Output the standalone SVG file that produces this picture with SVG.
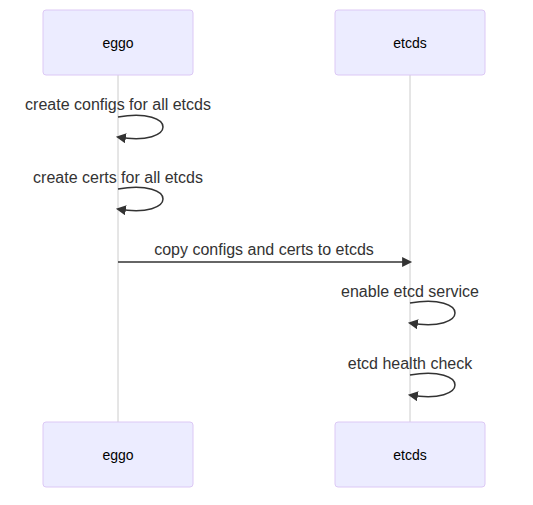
<svg xmlns="http://www.w3.org/2000/svg" width="533" height="505" viewBox="0 0 533 505">
<defs>
<style>
.actor{fill:#ECECFF;stroke:#DCC8F5;stroke-width:1}
.atext{font-family:"Liberation Sans",Arial,sans-serif;font-size:14px;fill:#000;text-anchor:middle;dominant-baseline:central}
.mtext{font-family:"Liberation Sans",Arial,sans-serif;font-size:16px;fill:#333;text-anchor:middle}
.life{stroke:#ccc;stroke-width:1}
.msg{stroke:#333;stroke-width:1.5;fill:none;marker-end:url(#arrowhead)}
</style>
<marker id="arrowhead" refX="7.9" refY="5" markerUnits="userSpaceOnUse" markerWidth="12" markerHeight="12" orient="auto">
<path d="M 0 0 L 10 5 L 0 10 z" fill="#333"/>
</marker>
</defs>
<rect width="533" height="505" fill="#fff"/>
<g id="lifelines">
<line class="life" x1="118" y1="75" x2="118" y2="422"/>
<line class="life" x1="410" y1="75" x2="410" y2="422"/>
</g>
<g id="eggo-top"><rect class="actor" x="43" y="10" width="150" height="65" rx="3"/><text class="atext" x="118" y="43">eggo</text></g>
<g id="etcds-top"><rect class="actor" x="335" y="10" width="150" height="65" rx="3"/><text class="atext" x="410" y="43">etcds</text></g>
<g id="eggo-bottom"><rect class="actor" x="43" y="422" width="150" height="65" rx="3"/><text class="atext" x="118" y="455">eggo</text></g>
<g id="etcds-bottom"><rect class="actor" x="335" y="422" width="150" height="65" rx="3"/><text class="atext" x="410" y="455">etcds</text></g>
<g id="connectors">
<path class="msg" d="M 118,117 C 178,107 178,147 118,137"/>
<path class="msg" d="M 118,189 C 178,179 178,219 118,209"/>
<line class="msg" x1="118" y1="262" x2="410" y2="262"/>
<path class="msg" d="M 410,303 C 470,293 470,333 410,323"/>
<path class="msg" d="M 410,375 C 470,365 470,405 410,395"/>
</g>
<g id="labels">
<text class="mtext" x="118" y="110">create configs for all etcds</text>
<text class="mtext" x="118" y="183">create certs for all etcds</text>
<text class="mtext" x="264" y="255">copy configs and certs to etcds</text>
<text class="mtext" x="410" y="297">enable etcd service</text>
<text class="mtext" x="410" y="369">etcd health check</text>
</g>
</svg>
